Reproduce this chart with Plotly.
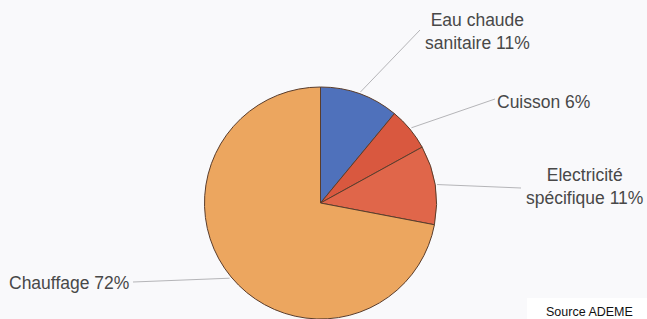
import math
import plotly.graph_objects as go

# Data
categories = ["Eau chaude sanitaire", "Cuisson", "Electricité spécifique", "Chauffage"]
values = [11, 6, 11, 72]
label_texts = ["Eau chaude<br>sanitaire 11%", "Cuisson 6%", "Electricité<br>spécifique 11%", "Chauffage 72%"]
colors = ["#4f71bb", "#d9583f", "#e0664a", "#eca65f"]

W, H = 647, 319
cx, cy, r = 320.5, 203, 116  # pie centre/radius in pixels

def px(x):
    return x / W

def py(y):
    return 1 - y / H

fig = go.Figure(go.Pie(
    labels=categories,
    values=values,
    sort=False,
    direction="clockwise",
    rotation=0,
    textinfo="none",
    hoverinfo="label+percent",
    showlegend=False,
    marker=dict(colors=colors, line=dict(color="#5a3d2c", width=1)),
    domain=dict(x=[px(cx - r), px(cx + r)], y=[0, py(cy - r)]),
))

# label placement (text centre in pixels) and leader end points
label_pos = [(477, 32), (543, 102), (584, 187), (69, 283)]
leader_end = [(420, 30), (495, 99), (521, 188), (133, 282)]

shapes = []
annotations = []
total = sum(values)
cum = 0
for i, v in enumerate(values):
    mid = (cum + v / 2) / total * 2 * math.pi
    cum += v
    sx = cx + (r + 2) * math.sin(mid)
    sy = cy - (r + 2) * math.cos(mid)
    ex, ey = leader_end[i]
    shapes.append(dict(type="line", xref="paper", yref="paper",
                       x0=px(sx), y0=py(sy), x1=px(ex), y1=py(ey),
                       line=dict(color="#b5b5b8", width=1)))
    lx, ly = label_pos[i]
    annotations.append(dict(x=px(lx), y=py(ly), xref="paper", yref="paper",
                            text=label_texts[i], showarrow=False,
                            xanchor="center", yanchor="middle",
                            font=dict(family="Liberation Sans, Arial, sans-serif", size=17.5, color="#484848")))

# Source box
shapes.append(dict(type="rect", xref="paper", yref="paper",
                   x0=px(527), x1=1, y0=0, y1=py(298),
                   fillcolor="#ffffff", line=dict(width=0), layer="above"))
annotations.append(dict(x=px(589), y=py(312), xref="paper", yref="paper",
                        text="Source ADEME", showarrow=False,
                        xanchor="center", yanchor="middle",
                        font=dict(family="Liberation Sans, Arial, sans-serif", size=12.5, color="#111111")))

fig.update_layout(
    width=W, height=H,
    margin=dict(l=0, r=0, t=0, b=0),
    paper_bgcolor="#f9f9fb",
    plot_bgcolor="#f9f9fb",
    shapes=shapes,
    annotations=annotations,
)

fig.write_html(
    "out.html",
    config={"displayModeBar": False},
    post_script="document.body.style.margin='0';document.body.style.padding='0';document.body.style.overflow='hidden';",
)
